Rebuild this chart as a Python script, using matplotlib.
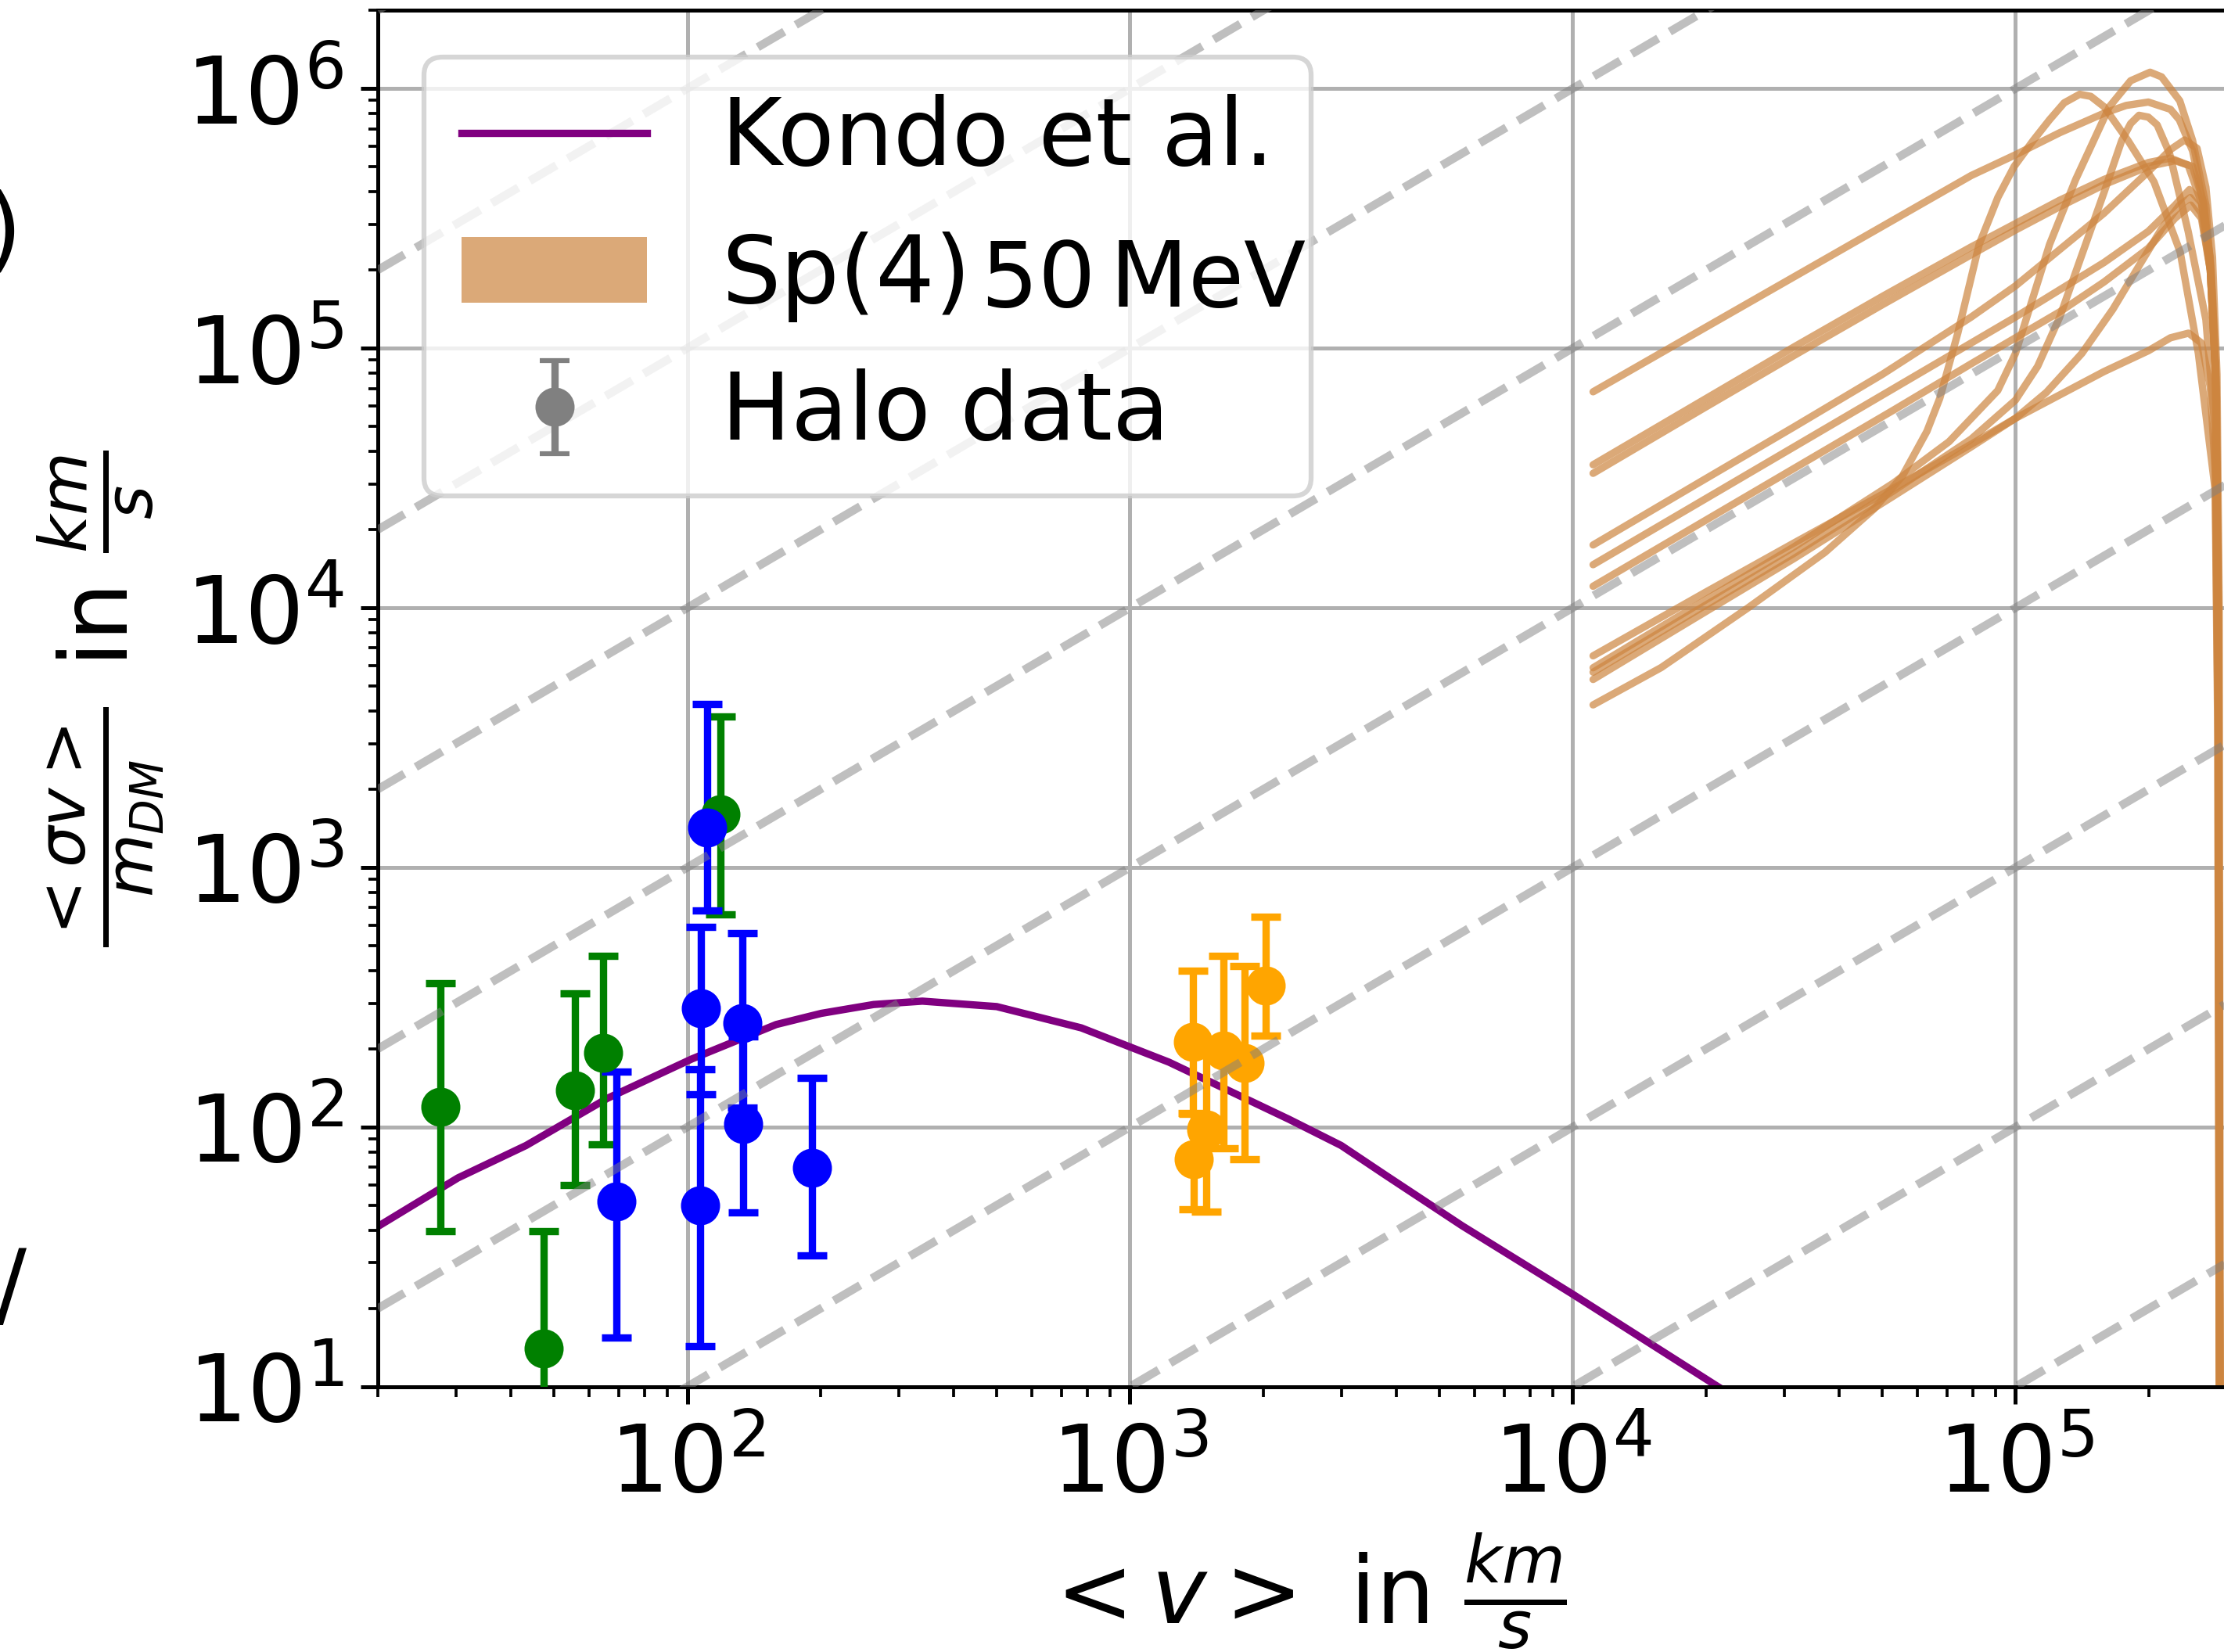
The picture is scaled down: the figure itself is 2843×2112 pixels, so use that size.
import numpy as np
import matplotlib
matplotlib.use('Agg')
import matplotlib.pyplot as plt
from matplotlib.lines import Line2D
from matplotlib.patches import Patch

plt.rcParams['font.family'] = ['DejaVu Sans']
plt.rcParams['font.size'] = 19
plt.rcParams['mathtext.fontset'] = 'dejavusans'

# ---------------- data (log10 of <v> in km/s, log10 of <sigma v>/m) ----------------
kondo_logv = [1.28, 1.482, 1.636, 1.820, 2.010, 2.201, 2.303, 2.421, 2.531, 2.699,
              2.890, 3.088, 3.359, 3.477, 3.576, 3.75, 4.001, 4.328, 4.5]
kondo_logy = [1.595, 1.804, 1.929, 2.111, 2.262, 2.395, 2.438, 2.472, 2.485, 2.464,
              2.382, 2.250, 2.030, 1.929, 1.816, 1.62, 1.355, 1.0, 0.82]

green_logv = [1.442, 1.675, 1.747, 1.810, 2.075]
green_logy = [2.077, 1.148, 2.142, 2.287, 3.204]
green_hi = [2.553, 1.600, 2.515, 2.658, 3.582]
green_lo = [1.600, 0.700, 1.778, 1.933, 2.818]

blue_logv = [1.840, 2.029, 2.031, 2.045, 2.124, 2.126, 2.281]
blue_logy = [1.714, 1.698, 2.457, 3.155, 2.401, 2.012, 1.843]
blue_hi = [2.213, 2.222, 2.771, 3.631, 2.747, 2.350, 2.189]
blue_lo = [1.190, 1.157, 2.126, 2.834, 2.076, 1.672, 1.505]

orange_logv = [3.142, 3.144, 3.173, 3.211, 3.258, 3.306]
orange_logy = [2.328, 1.876, 1.991, 2.294, 2.247, 2.546]
orange_hi = [2.601, 2.050, 2.308, 2.658, 2.620, 2.811]
orange_lo = [2.054, 1.683, 1.674, 1.917, 1.876, 2.351]

# Sp(4) 50 MeV curves
sp4_A = ([4.046, 4.3, 4.5, 4.7, 4.9, 5.0, 5.1, 5.2, 5.25, 5.3, 5.35, 5.37, 5.40, 5.425, 5.44, 5.452, 5.458, 5.462],
         [4.832, 5.08, 5.275, 5.47, 5.665, 5.745, 5.83, 5.905, 5.935, 5.948, 5.92, 5.88, 5.76, 5.55, 5.3, 4.9, 4.0, 0.5])
sp4_B1 = ([4.046, 4.3, 4.5, 4.7, 4.9, 5.0, 5.1, 5.2, 5.3, 5.35, 5.39, 5.42, 5.44, 5.452, 5.458, 5.462],
          [4.551, 4.805, 5.005, 5.2, 5.39, 5.48, 5.57, 5.65, 5.715, 5.732, 5.705, 5.56, 5.30, 4.9, 4.0, 0.5])
sp4_B2 = ([4.046, 4.3, 4.5, 4.7, 4.9, 5.0, 5.1, 5.2, 5.3, 5.36, 5.40, 5.425, 5.442, 5.453, 5.459, 5.462],
          [4.518, 4.773, 4.972, 5.168, 5.36, 5.455, 5.545, 5.63, 5.70, 5.722, 5.70, 5.56, 5.30, 4.9, 4.0, 0.5])
sp4_C = ([4.046, 4.3, 4.5, 4.7, 4.9, 5.0, 5.1, 5.2, 5.3, 5.35, 5.382, 5.41, 5.43, 5.445, 5.455, 5.46, 5.463],
         [4.242, 4.497, 4.697, 4.90, 5.12, 5.24, 5.38, 5.52, 5.68, 5.765, 5.802, 5.77, 5.62, 5.35, 4.9, 4.0, 0.5])
sp4_D = ([4.046, 4.3, 4.5, 4.724, 4.9, 5.0, 5.1, 5.2, 5.3, 5.36, 5.393, 5.42, 5.44, 5.452, 5.458, 5.462],
         [4.166, 4.42, 4.62, 4.844, 5.02, 5.12, 5.225, 5.33, 5.45, 5.55, 5.611, 5.56, 5.35, 4.9, 3.8, 0.5])
sp4_E = ([4.046, 4.3, 4.5, 4.724, 4.9, 5.0, 5.1, 5.2, 5.3, 5.36, 5.396, 5.42, 5.44, 5.452, 5.458, 5.462],
         [4.083, 4.337, 4.537, 4.761, 4.94, 5.04, 5.14, 5.255, 5.385, 5.5, 5.551, 5.5, 5.3, 4.9, 3.8, 0.5])
sp4_F = ([4.046, 4.3, 4.5, 4.724, 4.9, 5.0, 5.1, 5.2, 5.3, 5.35, 5.391, 5.42, 5.44, 5.452, 5.458, 5.462],
         [3.815, 4.06, 4.25, 4.46, 4.63, 4.73, 4.82, 4.91, 4.99, 5.04, 5.058, 5.02, 4.85, 4.5, 3.6, 0.5])
sp4_R1 = ([4.046, 4.2, 4.396, 4.57, 4.68, 4.744, 4.8, 4.829, 4.87, 4.918, 4.96, 4.997, 5.04, 5.077,
           5.11, 5.145, 5.17, 5.2, 5.254, 5.313, 5.372, 5.413, 5.451, 5.457, 5.461],
          [3.626, 3.77, 4.0, 4.214, 4.38, 4.506, 4.68, 4.807, 5.06, 5.40, 5.58, 5.70, 5.80, 5.88,
           5.945, 5.978, 5.97, 5.93, 5.80, 5.64, 5.37, 4.98, 4.455, 3.5, 0.5])
sp4_R2 = ([4.046, 4.3, 4.5, 4.724, 4.85, 4.96, 5.0, 5.077, 5.136, 5.212, 5.26, 5.304, 5.33, 5.35,
           5.371, 5.4, 5.43, 5.445, 5.454, 5.458, 5.462],
          [3.769, 4.03, 4.235, 4.48, 4.64, 4.837, 4.98, 5.40, 5.65, 5.93, 6.03, 6.063, 6.045, 6.0,
           5.953, 5.80, 5.55, 5.2, 4.807, 3.8, 0.5])
sp4_R3 = ([4.046, 4.3, 4.5, 4.724, 4.9, 5.0, 5.05, 5.1, 5.15, 5.2, 5.24, 5.26, 5.279, 5.30, 5.32,
           5.348, 5.39, 5.43, 5.45, 5.457, 5.461],
          [3.752, 4.01, 4.21, 4.45, 4.65, 4.80, 4.93, 5.12, 5.36, 5.6, 5.80, 5.865, 5.897, 5.89, 5.86,
           5.75, 5.45, 5.11, 4.7, 3.6, 0.5])
sp4_R4 = ([4.046, 4.3, 4.5, 4.724, 4.9, 5.0, 5.07, 5.15, 5.22, 5.28, 5.33, 5.37, 5.395, 5.42,
           5.44, 5.452, 5.458, 5.462],
          [3.724, 3.985, 4.19, 4.43, 4.62, 4.73, 4.83, 4.98, 5.15, 5.32, 5.46, 5.55, 5.58, 5.52,
           5.3, 4.9, 3.8, 0.5])
sp4_curves = [sp4_A, sp4_B1, sp4_B2, sp4_C, sp4_D, sp4_E, sp4_F, sp4_R1, sp4_R2, sp4_R3, sp4_R4]

ref_line_exponents = list(range(-4, 6))   # dashed lines <sigma v>/m = 10^k * <v>

legend_labels = ['Kondo et al.', 'Sp(4)', 'Halo data']
legend_label_tail = r'50$\,$MeV'

# ---------------- figure ----------------
W, H, DPI = 2843, 2112, 450
fig = plt.figure(figsize=(W / DPI, H / DPI), dpi=DPI)
left, right = 482.9 / W, 2846.5 / W
bottom, top = 1 - 1772.8 / H, 1 - 13.3 / H
ax = fig.add_axes([left, bottom, right - left, top - bottom])
ax.set_xscale('log')
ax.set_yscale('log')
ax.set_xlim(20, 3e5)
ax.set_ylim(10, 2e6)
ax.grid(True, which='major', color='#b0b0b0', linewidth=0.8)

p = lambda a: 10 ** np.asarray(a, dtype=float)

ax.plot(p(kondo_logv), p(kondo_logy), color='purple', lw=1.5, zorder=2)

for lv, ly in sp4_curves:
    ax.plot(p(lv), p(ly), color='peru', alpha=0.7, lw=1.5, zorder=2.2,
            solid_capstyle='round', solid_joinstyle='round')

def eb(lv, ly, hi, lo, color):
    y = p(ly)
    err = [y - p(lo), p(hi) - y]
    ax.errorbar(p(lv), y, yerr=err, fmt='o', color=color, ms=7, capsize=3,
                lw=1.5, capthick=1.5, zorder=3)

eb(green_logv, green_logy, green_hi, green_lo, 'green')
eb(blue_logv, blue_logy, blue_hi, blue_lo, 'blue')
eb(orange_logv, orange_logy, orange_hi, orange_lo, 'orange')

xl = np.array(ax.get_xlim())
for k in ref_line_exponents:
    ax.plot(xl, (10.0 ** k) * xl, ls='--', color='gray', alpha=0.5, lw=1.7, zorder=4)
ax.set_xlim(20, 3e5)
ax.set_ylim(10, 2e6)

h_halo = ax.errorbar([np.nan], [np.nan], yerr=[[1], [1]], fmt='o', color='gray',
                     ms=7, capsize=3, lw=1.5)
handles = [Line2D([], [], color='purple', lw=1.5),
           Patch(facecolor='peru', alpha=0.7, edgecolor='none'),
           h_halo]
leg = ax.legend(handles, legend_labels, loc='upper left')

ax.set_xlabel(r'$<v>$ in $\frac{km}{s}$')
ax.set_ylabel(r'$\frac{<\sigma v>}{m_{DM}}$ in $\frac{km}{s}$')

# fragments of neighbouring text cut at the left border
fig.text(28 / W, 1 - 300 / H, ')', ha='right', va='center', fontsize=19)
fig.text(14 / W, 1 - 1650 / H, '/', ha='center', va='center', fontsize=19)

# second part of the Sp(4) legend label, running past the measured label width
fig.canvas.draw()
r = fig.canvas.get_renderer()
t = leg.get_texts()[1]
ext = t.get_window_extent(r)
xb, yb = t.get_transform().transform(t.get_position())
fig.text((ext.x1 + 12) / W, (yb - 5) / H, legend_label_tail, ha='left', va='baseline',
         fontsize=18.5, zorder=10)

fig.savefig('out.png', dpi=DPI)
